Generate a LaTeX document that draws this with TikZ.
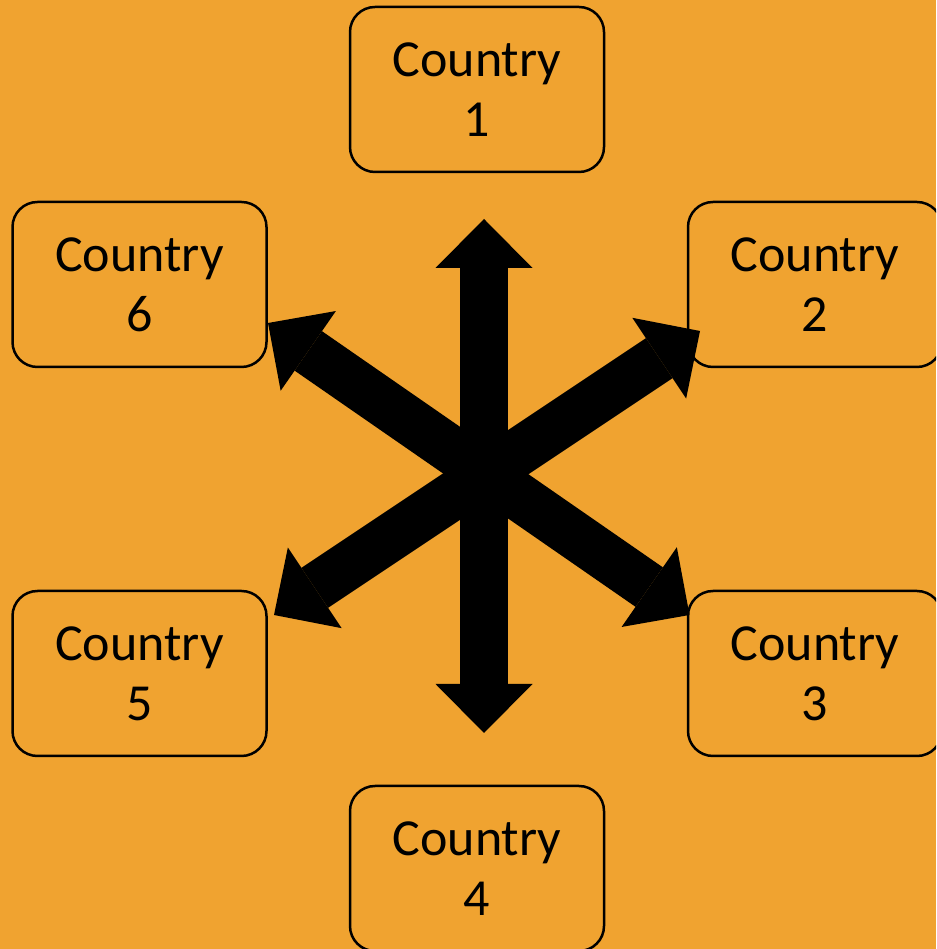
\documentclass[tikz,border=0pt]{standalone}
\usepackage{fontspec}
\setmainfont{Carlito}
\usetikzlibrary{arrows.meta}
\definecolor{bgorange}{RGB}{240,163,48}
\tikzstyle{country} = [draw, line width=2.5pt, rounded corners=25pt, fill=bgorange,
  minimum width=254pt, minimum height=165pt, align=center,
  font=\fontsize{52}{60}\selectfont]
\tikzset{
  link/.style ={draw, line width=48pt,
    {Triangle[length=49pt,width=97pt,line width=0pt]}-{Triangle[length=49pt,width=97pt,line width=0pt]}}
}

\begin{document}
\begin{tikzpicture}[x=1pt,y=1pt]
  \useasboundingbox (0,0) rectangle (936,949);
  \clip (0,0) rectangle (936,949);
  \fill[bgorange] (0,0) rectangle (936,949);

  \node[country] (country1) at (477,859.5) {Country\\1};
  \node[country] (country2) at (815,664.5) {Country\\2};
  \node[country] (country3) at (815,275.5) {Country\\3};
  \node[country] (country4) at (477,80.5) {Country\\4};
  \node[country] (country5) at (139.5,275.5) {Country\\5};
  \node[country] (country6) at (139.5,664.5) {Country\\6};

  % arrow tips
  \coordinate (tip1) at (484,730);
  \coordinate (tip4) at (484,216);
  \coordinate (tip2) at (700,618);
  \coordinate (tip5) at (274,334);
  \coordinate (tip6) at (268,626);
  \coordinate (tip3) at (689.5,334);

  \path[link] (tip4) -- (tip1);
  \path[link] (tip5) -- (tip2);
  \path[link] (tip3) -- (tip6);

\end{tikzpicture}
\end{document}
